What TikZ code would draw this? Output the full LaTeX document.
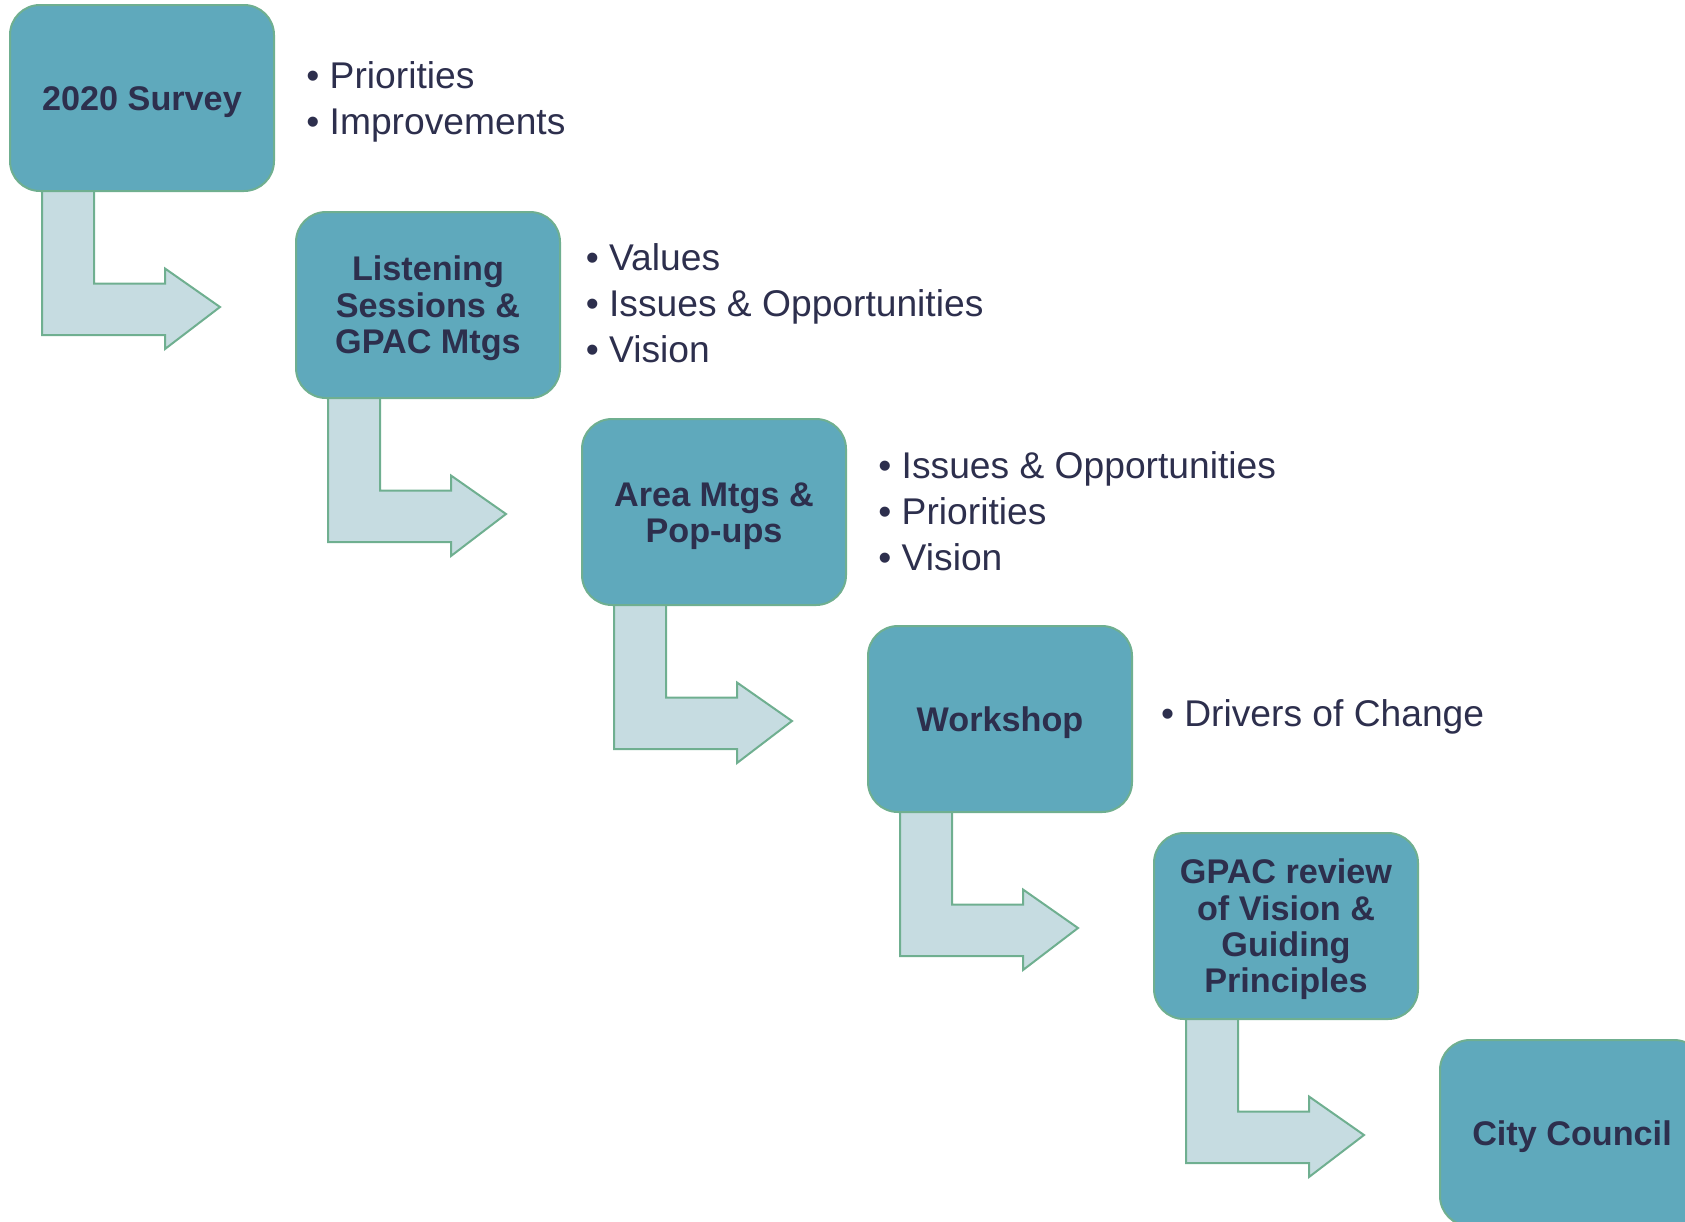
\documentclass[tikz,border=0pt]{standalone}
\usepackage{fontspec}
\setmainfont{Liberation Sans}
\usetikzlibrary{positioning,backgrounds}
\definecolor{boxfill}{HTML}{5FA9BC}
\definecolor{boxline}{HTML}{6FAF90}
\definecolor{bentfill}{HTML}{C6DCE1}
\definecolor{ink}{HTML}{2D2F4D}
\newcommand{\up}{\rule{0pt}{15.7pt}}
\tikzset{
  stage/.style={rectangle,rounded corners=15pt,draw=boxline,line width=1pt,fill=boxfill,
    minimum width=132pt,minimum height=93pt,align=center,text=ink,
    font=\bfseries\fontsize{17.1}{18.1}\selectfont},
  bullets/.style={inner sep=0pt,align=left,text=ink,font=\fontsize{18.6}{23}\selectfont},
  bent/.style={draw=boxline,line width=1pt,fill=bentfill}
}
\begin{document}
\begin{tikzpicture}[x=0.5pt,y=-0.5pt]
		\useasboundingbox (0,0) rectangle (1685,1221);
		\clip (0,0) rectangle (1685,1221);

		\node(1) at (142,98)[stage]{\up 2020 Survey};
		\node(2) at (428,305)[stage]{\up Listening\\Sessions \&\\GPAC Mtgs};
		\node(3) at (714,512)[stage]{\up Area Mtgs \&\\Pop-ups};
		\node(4) at (1000,719)[stage]{\up Workshop};
		\node(5) at (1286,926)[stage]{\up GPAC review\\of Vision \&\\Guiding\\Principles};
		\node(6) at (1572,1133)[stage]{\up City Council};

		\node(1b)[bullets,right=15.5pt of 1,yshift=-2.1pt]{• Priorities\\• Improvements};
		\node(2b)[bullets,right=12.2pt of 2,yshift=0.8pt]{• Values\\• Issues \& Opportunities\\• Vision};
		\node(3b)[bullets,right=15.5pt of 3,yshift=0.6pt]{• Issues \& Opportunities\\• Priorities\\• Vision};
		\node(4b)[bullets,right=13.8pt of 4,yshift=1pt]{• Drivers of Change};

		% bent arrows behind the boxes
		\begin{pgfonlayer}{background}
		\foreach \a/\b in {1/2,2/3,3/4,4/5,5/6}
			\draw[bent] ([shift={(33,-10)}]\a.south west) -- ([shift={(33,143)}]\a.south west)
				-- ([shift={(156,143)}]\a.south west) -- ([shift={(156,157)}]\a.south west)
				-- ([shift={(-75,2)}]\b.west)
				-- ([shift={(156,76.5)}]\a.south west) -- ([shift={(156,91.5)}]\a.south west)
				-- ([shift={(85,91.5)}]\a.south west) -- ([shift={(85,-10)}]\a.south west) -- cycle;
		\end{pgfonlayer}

	\end{tikzpicture}
\end{document}
